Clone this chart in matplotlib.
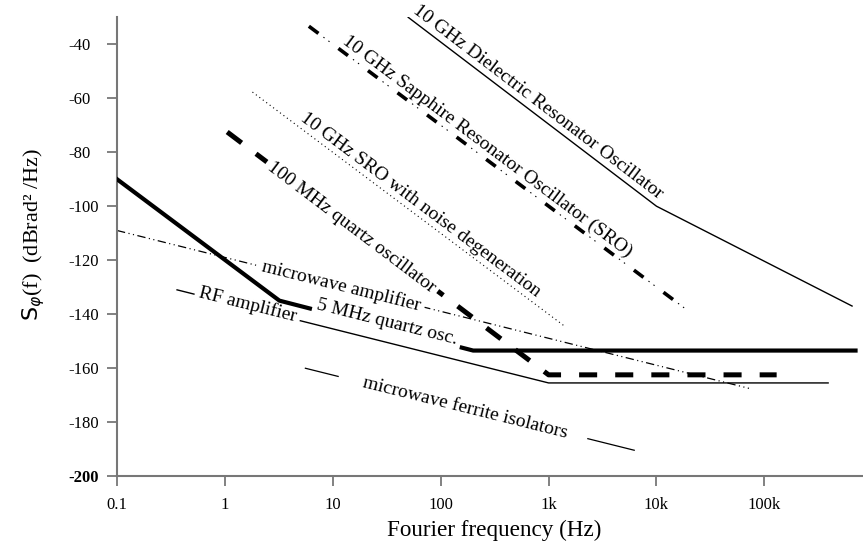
import numpy as np
import matplotlib
matplotlib.use("Agg")
from matplotlib import pyplot as plt

plt.rcParams['font.family'] = ['Liberation Serif', 'DejaVu Serif']
plt.rcParams['mathtext.fontset'] = 'stix'
plt.rcParams['lines.scale_dashes'] = False

# phase noise curves (Hz, dBrad^2/Hz)
dro_f = [50, 1e4, 6.5e5]
dro_db = [-30, -100, -137]
sro_f = [6, 2e4]
sro_db = [-33.3, -139]
sron_f = [1.8, 1.4e3]
sron_db = [-57.7, -144.4]
q100_f = [1.05, 1000, 1.3e5]
q100_db = [-72.5, -162.5, -162.5]
q5_f = [0.1, 3.2, 200, 7e5]
q5_db = [-90, -135, -153.5, -153.5]
mwamp_f = [0.1, 7.2e4]
mwamp_db = [-109, -167.5]
rf_f = [0.36, 1000, 3.9e5]
rf_db = [-131, -165.5, -165.5]
ferr_f = [5.5, 6.3e3]
ferr_db = [-160, -190.5]

xticks = [0.1, 1, 10, 100, 1e3, 1e4, 1e5]
xlabels = ['0.1', '1', '10', '100', '1k', '10k', '100k']
yticks = list(range(-200, -39, 20))

fig = plt.figure(figsize=(8.63, 5.5), dpi=100)
ax = fig.add_axes([0.1356, 0.1345, 0.863, 0.834])
ax.set_xscale('log')
ax.set_xlim(0.1, 8e5)
ax.set_ylim(-200, -30)

ax.plot(dro_f, dro_db, color='k', lw=1.0)
# dash-dot-dot: thick dashes + thin dots
ax.plot(sro_f, sro_db, color='k', lw=2.6, linestyle=(0, (8.6, 18)), dash_capstyle='butt')
ax.plot(sro_f, sro_db, color='k', lw=0.8, linestyle=(13.5, (1, 3.5, 1, 21.1)), dash_capstyle='butt')
ax.plot(sron_f, sron_db, color='k', lw=0.8, linestyle=(0, (0.8, 2.3)), dash_capstyle='butt')
ax.plot(q100_f, q100_db, color='k', lw=3.6, linestyle=(0, (13, 13)), dash_capstyle='butt')
ax.plot(q5_f, q5_db, color='k', lw=3.0, solid_joinstyle='miter', zorder=5.5)
ax.plot(mwamp_f, mwamp_db, color='k', lw=0.9, linestyle=(0, (6, 2.5, 0.8, 2.5, 0.8, 2.5)),
        dash_capstyle='butt')
ax.plot(rf_f, rf_db, color='k', lw=1.0)
ax.plot(ferr_f, ferr_db, color='k', lw=0.9, linestyle=(10.8, (36, 19.1)), dash_capstyle='butt')


def angle(f, db):
    p = ax.transData.transform(np.column_stack([f[:2], db[:2]]))
    return np.degrees(np.arctan2(p[1, 1] - p[0, 1], p[1, 0] - p[0, 0]))


white = dict(facecolor='white', edgecolor='none', pad=3)
fs = 14
ax.text(800, -61.5, '10 GHz Dielectric Resonator Oscillator', rotation=angle(dro_f, dro_db),
        rotation_mode='anchor', ha='center', va='center', fontsize=fs)
ax.text(272, -78, '10 GHz Sapphire Resonator Oscillator (SRO)', rotation=angle(sro_f, sro_db),
        rotation_mode='anchor', ha='center', va='center', fontsize=fs)
ax.text(65, -99.6, '10 GHz SRO with noise degeneration', rotation=angle(sron_f, sron_db),
        rotation_mode='anchor', ha='center', va='center', fontsize=fs)
ax.text(15, -107.8, '100 MHz quartz oscillator', rotation=angle(q100_f, q100_db),
        rotation_mode='anchor', ha='center', va='center', fontsize=fs, bbox=white, zorder=5)
ax.text(12.1, -129.5, 'microwave amplifier', rotation=angle(mwamp_f, mwamp_db),
        rotation_mode='anchor', ha='center', va='center', fontsize=fs, bbox=white, zorder=5)
ax.text(32, -143, '5 MHz quartz osc.', rotation=angle(rf_f, rf_db),
        rotation_mode='anchor', ha='center', va='center', fontsize=fs, bbox=white, zorder=6)
ax.text(1.63, -136.5, 'RF amplifier', rotation=angle(rf_f, rf_db),
        rotation_mode='anchor', ha='center', va='center', fontsize=fs, bbox=white, zorder=5)
ax.text(170, -174.8, 'microwave ferrite isolators', rotation=angle(ferr_f, ferr_db),
        rotation_mode='anchor', ha='center', va='center', fontsize=fs, bbox=white, zorder=5)

ax.set_xticks(xticks)
ax.set_xticklabels(xlabels)
ax.minorticks_off()
ax.set_yticks(yticks)
ax.set_yticklabels([str(v) for v in yticks], ha='left')
ax.get_yticklabels()[0].set_fontweight('bold')
ax.tick_params(direction='out', length=7, width=1.3, color='#777777', labelsize=12)
ax.tick_params(axis='x', pad=8)
ax.tick_params(axis='y', pad=28)
ax.yaxis.get_major_ticks()[0].tick1line.set_color('k')

for s in ['top', 'right']:
    ax.spines[s].set_visible(False)
for s in ['left', 'bottom']:
    ax.spines[s].set_color('#777777')
    ax.spines[s].set_linewidth(1.5)

ax.set_xlabel('Fourier frequency (Hz)', fontsize=16.7, labelpad=8)
ax.xaxis.set_label_coords(0.507, -0.095)
ax.set_ylabel(r'$\mathrm{S}_{\varphi}$(f)  (dBrad² /Hz)', fontsize=16, math_fontfamily='dejavusans')
ax.yaxis.set_label_coords(-0.094, 0.526)

fig.savefig('out.png', dpi=100)
